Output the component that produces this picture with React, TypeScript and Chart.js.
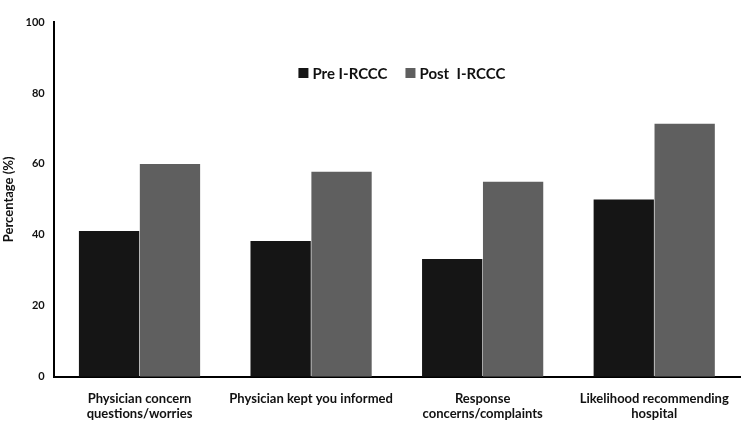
import React, { useEffect, useRef } from "react";
import { Chart, registerables } from "chart.js";

Chart.register(...registerables);

const categories: string[][] = [
  ["Physician concern", "questions/worries"],
  ["Physician kept you informed"],
  ["Response", "concerns/complaints"],
  ["Likelihood recommending", "hospital"],
];
const preValues = [41.1, 38.3, 33.2, 50.0];
const postValues = [60.0, 57.8, 55.0, 71.3];
const seriesNames = ["Pre I-RCCC", "Post  I-RCCC"];

const FONT = "Lato, 'Open Sans', sans-serif";

const insideLegend = {
  id: "insideLegend",
  afterDraw(chart: any) {
    const { ctx, chartArea } = chart;
    const ds = chart.data.datasets;
    ctx.save();
    ctx.font = `bold 15px ${FONT}`;
    ctx.textBaseline = "middle";
    const box = 10;
    const gapBoxText = 4;
    const gapItems = 18;
    const widths = ds.map((d: any) => box + gapBoxText + ctx.measureText(d.label).width);
    const total = widths.reduce((a: number, b: number) => a + b, 0) + gapItems * (ds.length - 1);
    let x = (chartArea.left + chartArea.right) / 2 - total / 2 + 5;
    const y = chartArea.top + 51;
    ds.forEach((d: any, i: number) => {
      ctx.fillStyle = d.backgroundColor;
      ctx.fillRect(x, y - box / 2, box, box);
      ctx.fillStyle = "#111";
      ctx.fillText(d.label, x + box + gapBoxText, y + 1);
      x += widths[i] + gapItems;
    });
    ctx.restore();
  },
};

export default function App() {
  const ref = useRef<HTMLCanvasElement | null>(null);
  useEffect(() => {
    if (!ref.current) return;
    const chart = new Chart(ref.current, {
      type: "bar",
      data: {
        labels: categories,
        datasets: [
          {
            label: seriesNames[0],
            data: preValues,
            backgroundColor: "#151515",
            borderWidth: 0,
            barPercentage: 0.99,
            categoryPercentage: 0.71,
          },
          {
            label: seriesNames[1],
            data: postValues,
            backgroundColor: "#5f5f5f",
            borderWidth: 0,
            barPercentage: 0.99,
            categoryPercentage: 0.71,
          },
        ],
      },
      options: {
        animation: false,
        responsive: false,
        maintainAspectRatio: false,
        layout: { padding: { top: 22, right: 4, bottom: 1, left: 1 } },
        plugins: {
          tooltip: { enabled: false },
          legend: { display: false },
        },
        scales: {
          x: {
            grid: { display: false, drawTicks: false },
            border: { display: true, color: "#000", width: 2 },
            ticks: {
              color: "#111",
              padding: 14,
              maxRotation: 0,
              autoSkip: false,
              font: { family: FONT, size: 13, weight: "bold" },
            },
          },
          y: {
            min: 0,
            max: 100,
            grid: { display: false, drawTicks: false },
            border: { display: true, color: "#000", width: 2 },
            ticks: {
              stepSize: 20,
              color: "#111",
              padding: 9,
              font: { family: FONT, size: 11, weight: "bold" },
            },
            title: {
              display: true,
              text: "Percentage (%)",
              color: "#111",
              padding: { top: 0, bottom: 0 },
              font: { family: FONT, size: 13, weight: "bold" },
            },
          },
        },
      },
      plugins: [insideLegend],
    });
    return () => chart.destroy();
  }, []);
  return (
    <div style={{ position: "fixed", left: 0, top: 0, width: 744, height: 437, background: "#fff" }}>
      <canvas ref={ref} width={744} height={437} />
    </div>
  );
}
